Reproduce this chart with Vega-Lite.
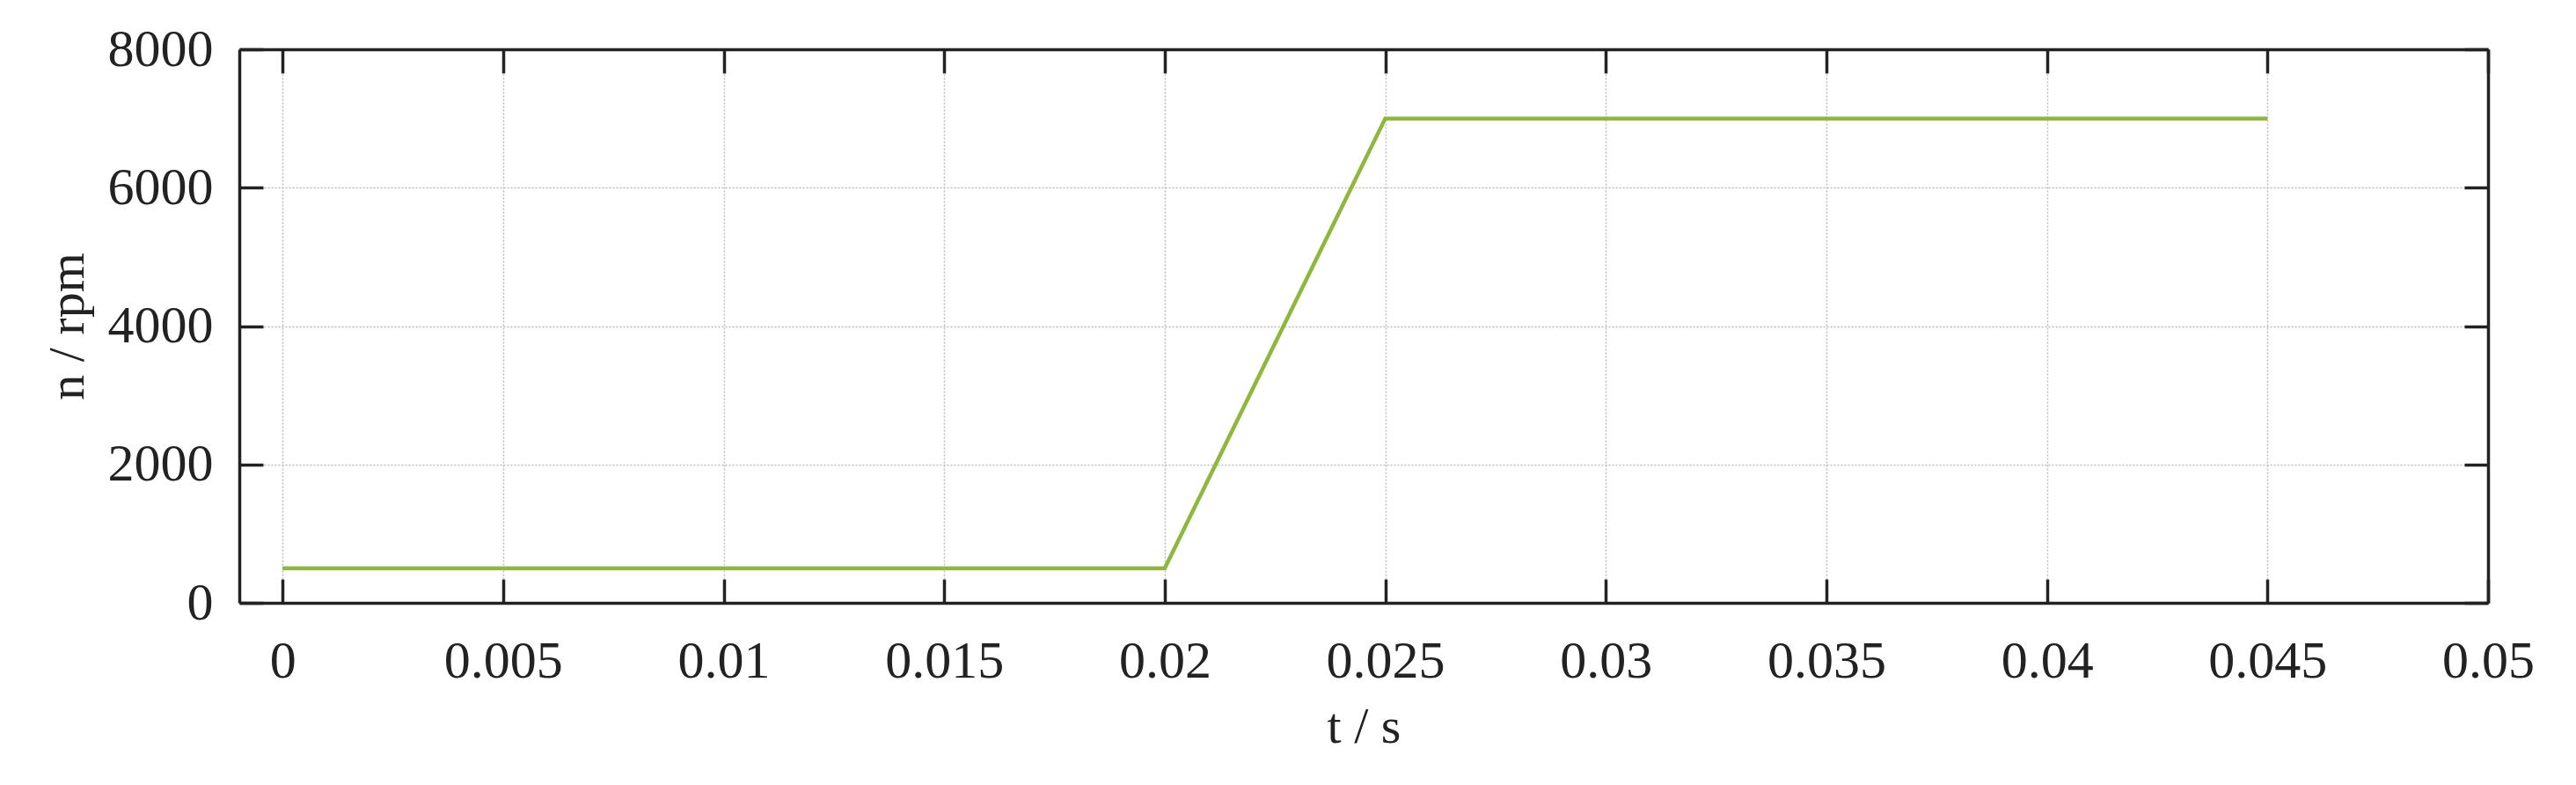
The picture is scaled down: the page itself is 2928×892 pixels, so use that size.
{
  "$schema": "https://vega.github.io/schema/vega-lite/v6.json",
  "description": "Speed n over time t, step from 500 rpm to 7000 rpm",
  "background": "white",
  "autosize": "none",
  "padding": {"left": 272, "top": 56, "right": 100, "bottom": 207},
  "width": 2556,
  "height": 629,
  "data": {
    "values": [
      {"t": 0, "n": 500},
      {"t": 0.02, "n": 500},
      {"t": 0.025, "n": 7000},
      {"t": 0.045, "n": 7000}
    ]
  },
  "layer": [
    {
      "mark": {"type": "line", "color": "#8db83c", "strokeWidth": 4.5, "clip": true},
      "encoding": {
        "x": {
          "field": "t",
          "type": "quantitative",
          "scale": {"domain": [-0.00098, 0.05], "nice": false, "zero": false},
          "axis": {
            "orient": "bottom",
            "title": "t / s",
            "values": [0, 0.005, 0.01, 0.015, 0.02, 0.025, 0.03, 0.035, 0.04, 0.045, 0.05],
            "labelExpr": "datum.value == 0 ? '0' : format(datum.value, '~g')",
            "labelPadding": 64,
            "titlePadding": 16,
            "grid": true
          }
        },
        "y": {
          "field": "n",
          "type": "quantitative",
          "scale": {"domain": [0, 8000], "nice": false},
          "axis": {
            "orient": "left",
            "title": "n /  rpm",
            "values": [0, 2000, 4000, 6000, 8000],
            "format": "d",
            "labelPadding": 57,
            "titlePadding": 16,
            "grid": true
          }
        }
      }
    },
    {
      "mark": {"type": "line", "opacity": 0},
      "encoding": {
        "x": {
          "field": "t",
          "type": "quantitative",
          "axis": {
            "orient": "top",
            "title": null,
            "labels": false,
            "grid": false,
            "values": [0, 0.005, 0.01, 0.015, 0.02, 0.025, 0.03, 0.035, 0.04, 0.045, 0.05]
          }
        },
        "y": {
          "field": "n",
          "type": "quantitative",
          "axis": {
            "orient": "right",
            "title": null,
            "labels": false,
            "grid": false,
            "values": [0, 2000, 4000, 6000, 8000]
          }
        }
      }
    }
  ],
  "resolve": {"axis": {"x": "independent", "y": "independent"}},
  "config": {
    "view": {"stroke": null},
    "font": "Liberation Serif",
    "axis": {
      "domainColor": "#222222",
      "domainWidth": 3.5,
      "tickColor": "#222222",
      "tickWidth": 3.5,
      "tickSize": -27,
      "labelFont": "Liberation Serif",
      "labelFontSize": 60,
      "labelColor": "#222222",
      "labelFlush": false,
      "labelOverlap": false,
      "titleFont": "Liberation Serif",
      "titleFontSize": 58,
      "titleFontWeight": "normal",
      "titleColor": "#222222",
      "gridColor": "#bbbbbb",
      "gridWidth": 1.5,
      "gridDash": [2, 2]
    }
  }
}
